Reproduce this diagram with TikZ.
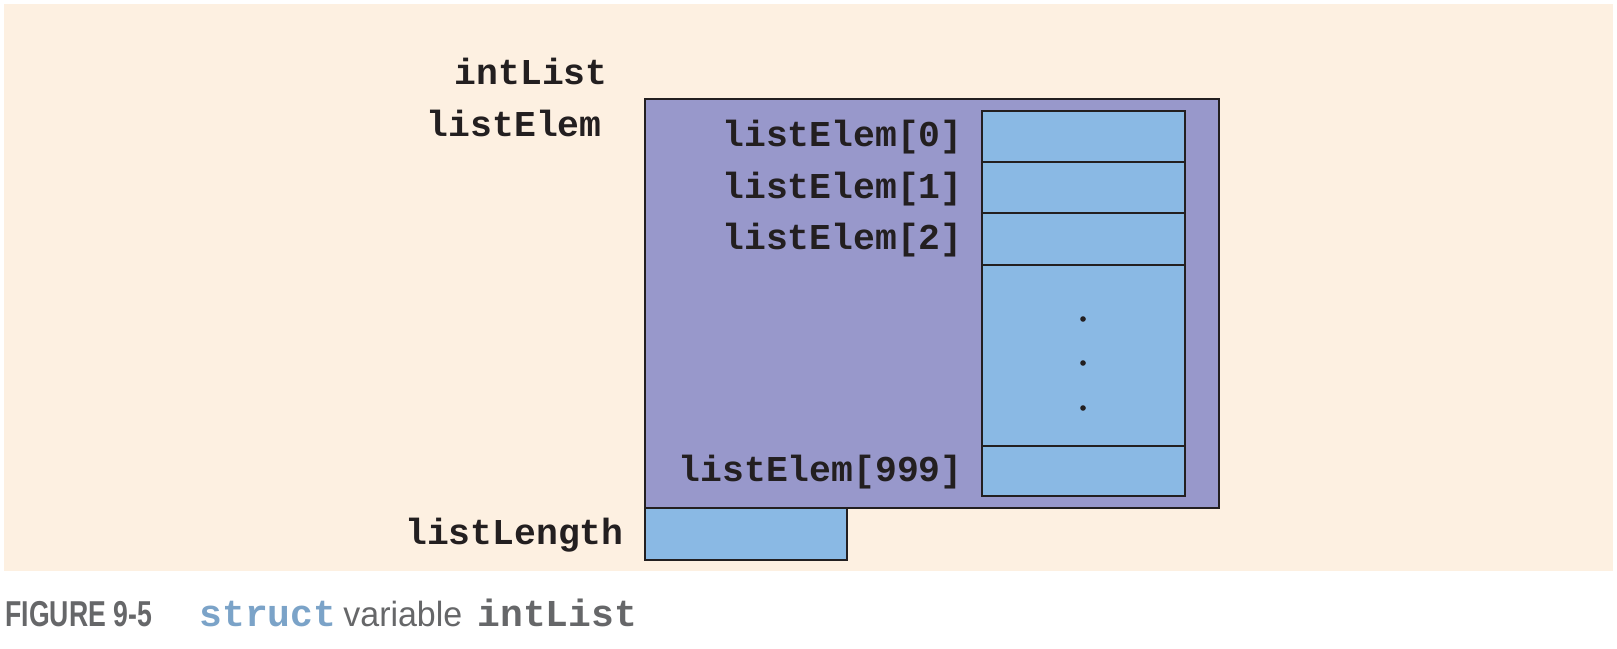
\documentclass[tikz,border=0pt]{standalone}
\usepackage{fontspec}
\setmainfont{Liberation Sans}
\newfontfamily\monof{Liberation Mono}
\newfontfamily\capf[FakeStretch=0.74]{Liberation Sans}
\newfontfamily\capv[FakeStretch=0.97]{Liberation Sans}
\usetikzlibrary{fit}
\definecolor{bgc}{HTML}{FDF0E1}
\definecolor{purp}{HTML}{9898CB}
\definecolor{cellc}{HTML}{8AB9E4}
\definecolor{inkc}{HTML}{231F20}
\definecolor{capgray}{HTML}{666769}
\definecolor{capblue}{HTML}{7BA3C8}
\tikzset{
  boxc/.style={draw=inkc, line width=1pt, inner sep=0pt},
  lbl/.style={anchor=base east, inner sep=0pt, text=inkc, font=\monof\bfseries\fontsize{18.2}{20}\selectfont},
  capt/.style={anchor=base west, inner sep=0pt, text=capgray},
}
\begin{document}
\begin{tikzpicture}[x=0.5pt,y=-0.5pt]
\useasboundingbox (0,0) rectangle (1617,648);
\node[fill=bgc, inner sep=0pt, fit={(4,4)(1613,571)}] (bg) {};
% outer struct box
\node[boxc, fill=purp, fit={(645,99)(1219,508)}] (outer) {};
% array cells
\node[boxc, fill=cellc, fit={(982,111)(1185,162)}] (c0) {};
\node[boxc, fill=cellc, fit={(982,162)(1185,213)}] (c1) {};
\node[boxc, fill=cellc, fit={(982,213)(1185,265)}] (c2) {};
\node[boxc, fill=cellc, fit={(982,265)(1185,446)}] (cdots) {};
\node[boxc, fill=cellc, fit={(982,446)(1185,496)}] (c999) {};
% listLength box
\node[boxc, fill=cellc, fit={(645,508)(847,560)}] (len) {};
% dots
\foreach \yy/\nm in {319/d1,363/d2,408/d3}
  \node[circle, fill=inkc, inner sep=0pt, minimum size=2.8pt] (\nm) at (1083,\yy) {};
% labels
\node[lbl] (lint) at (608,84.5) {intList};
\node[lbl] (lelem) at (602,136) {listElem};
\node[lbl] (l0) at (963,146.5) {listElem[0]};
\node[lbl] (l1) at (963,198) {listElem[1]};
\node[lbl] (l2) at (963,249.5) {listElem[2]};
\node[lbl] (l999) at (963,481.5) {listElem[999]};
\node[lbl] (llen) at (624,544.5) {listLength};
% caption
\node[capt, font=\capf\bfseries\fontsize{18}{20}\selectfont] (cap1) at (5,626) {FIGURE 9-5};
\node[capt, text=capblue, font=\monof\bfseries\fontsize{19}{20}\selectfont] (cap2) at (199,626) {struct};
\node[capt, font=\capv\fontsize{17.5}{20}\selectfont] (cap3) at (343,626) {variable};
\node[capt, font=\monof\bfseries\fontsize{19}{20}\selectfont] (cap4) at (477,626) {intList};
\end{tikzpicture}
\end{document}
